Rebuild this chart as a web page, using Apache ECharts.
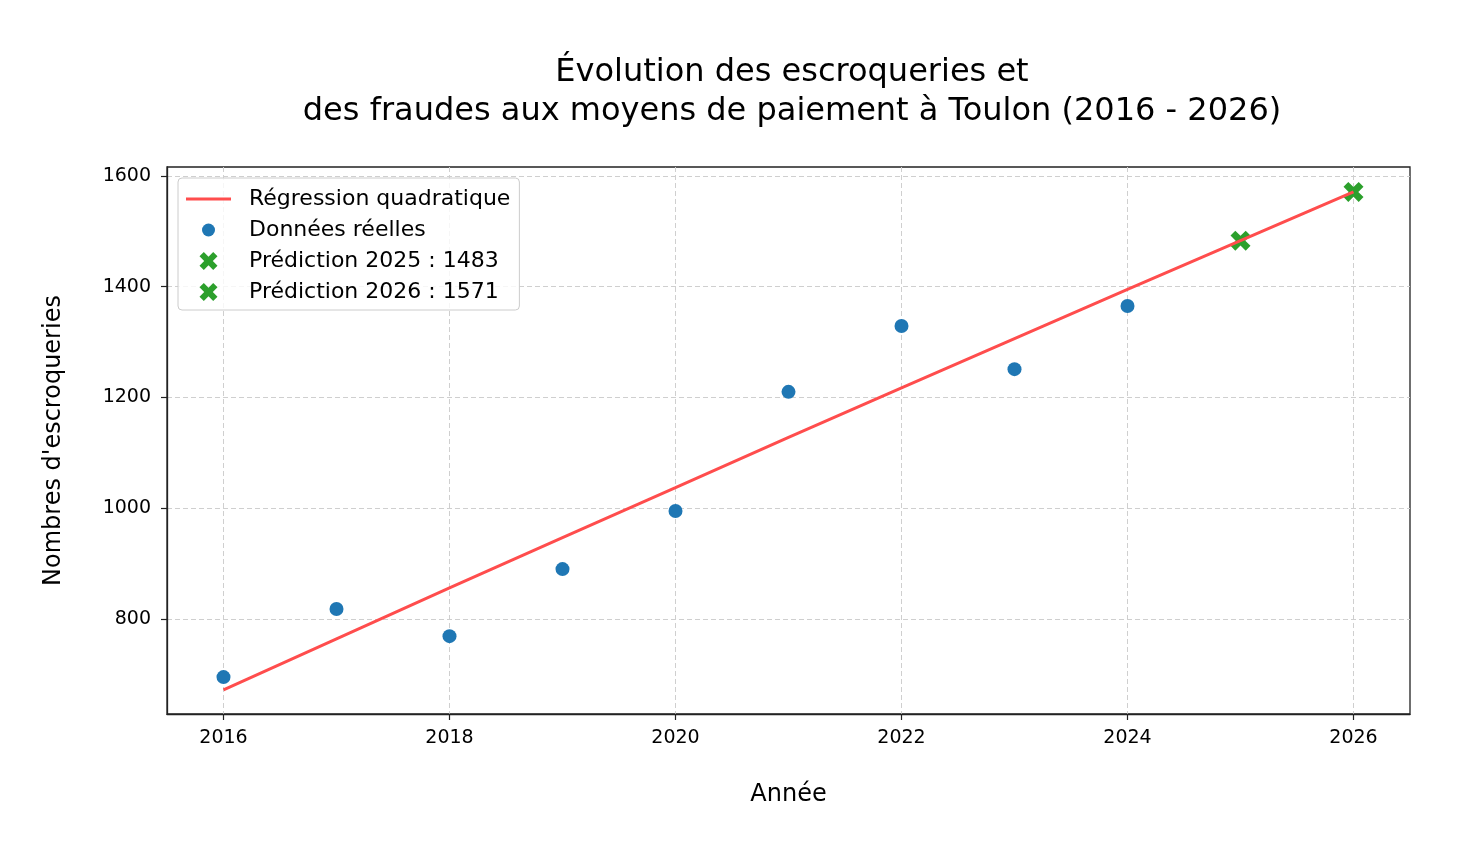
<!DOCTYPE html>
<html>
<head>
<meta charset="utf-8">
<script src="https://cdn.jsdelivr.net/npm/echarts@6/dist/echarts.min.js"></script>
<style>html,body{margin:0;padding:0;background:#fff}#c{width:1475px;height:849px}</style>
</head>
<body>
<div id="c"></div>
<script>
const years = [2016, 2017, 2018, 2019, 2020, 2021, 2022, 2023, 2024];
const actual = [695, 818, 769, 890, 995, 1210, 1329, 1251, 1365];
const predYears = [2025, 2026];
const predValues = [1483, 1571];
const fitYears = [2016, 2017, 2018, 2019, 2020, 2021, 2022, 2023, 2024, 2025, 2026];
const fitValues = [672, 764, 856, 947, 1037, 1128, 1217, 1306, 1395, 1483, 1571];
const xTicks = [2016, 2018, 2020, 2022, 2024, 2026];
const yTicks = [800, 1000, 1200, 1400, 1600];

const FONT = 'DejaVu Sans';
const xPath = 'path://M24,0 L50,26 L76,0 L100,24 L74,50 L100,76 L76,100 L50,74 L24,100 L0,76 L26,50 L0,24 Z';
const lineIcon = 'path://M0,0 L0,0 M0,7.5 L45,7.5 L45,10.5 L0,10.5 Z M45,18 L45,18';
const dotIcon = 'path://M0,0 L0,0 M2.5,9 A6.5,6.5 0 1 1 15.5,9 A6.5,6.5 0 1 1 2.5,9 Z M18,18 L18,18';

const chart = echarts.init(document.getElementById('c'), null, {renderer: 'canvas'});
const gridLine = {show: true, lineStyle: {color: '#cfcfcf', type: [5, 3], width: 1}};
const option = {
  backgroundColor: '#fff',
  animation: false,
  title: {
    text: 'Évolution des escroqueries et\ndes fraudes aux moyens de paiement à Toulon (2016 - 2026)',
    left: 787, top: 48, textAlign: 'center',
    textStyle: {fontFamily: FONT, fontSize: 32, fontWeight: 'normal', color: '#000', lineHeight: 39}
  },
  legend: {
    orient: 'vertical', left: 178, top: 178,
    padding: [10, 9, 7, 8],
    itemWidth: 45, itemHeight: 18, itemGap: 9,
    symbolKeepAspect: true,
    backgroundColor: 'rgba(255,255,255,0.8)',
    borderColor: '#cccccc', borderWidth: 1, borderRadius: 4,
    textStyle: {fontFamily: FONT, fontSize: 22, color: '#000', lineHeight: 22, padding: [0, 0, 0, 13]},
    data: [
      {name: 'Régression quadratique', icon: lineIcon, itemStyle: {color: '#ff4d4d'}},
      {name: 'Données réelles', icon: dotIcon},
      {name: 'Prédiction 2025 : 1483'},
      {name: 'Prédiction 2026 : 1571'}
    ]
  },
  grid: {left: 167, right: 65, top: 167, bottom: 135, show: true, borderColor: '#222', borderWidth: 1.3, backgroundColor: 'transparent'},
  xAxis: {
    type: 'value', min: 2015.5, max: 2026.5,
    name: 'Année', nameLocation: 'middle', nameGap: 69,
    nameTextStyle: {fontFamily: FONT, fontSize: 24, color: '#000'},
    axisLine: {show: true, onZero: false, lineStyle: {color: '#222', width: 1.3}},
    axisTick: {show: true, customValues: xTicks, length: 6, lineStyle: {color: '#222', width: 1.2}},
    axisLabel: {customValues: xTicks, margin: 15, fontFamily: FONT, fontSize: 19, color: '#000', formatter: v => String(v)},
    splitLine: gridLine
  },
  yAxis: {
    type: 'value', min: 628.4, max: 1616,
    name: "Nombres d'escroqueries", nameLocation: 'middle', nameGap: 101,
    nameTextStyle: {fontFamily: FONT, fontSize: 24, color: '#000'},
    axisLine: {show: true, onZero: false, lineStyle: {color: '#222', width: 1.3}},
    axisTick: {show: true, customValues: yTicks, length: 6, lineStyle: {color: '#222', width: 1.2}},
    axisLabel: {customValues: yTicks, margin: 16, fontFamily: FONT, fontSize: 19, color: '#000', formatter: v => String(v)},
    splitLine: gridLine
  },
  series: [
    {
      name: 'Régression quadratique', type: 'line', z: 4,
      data: fitYears.map((y, i) => [y, fitValues[i]]),
      showSymbol: false, symbol: 'none', smooth: false,
      lineStyle: {color: '#ff4d4d', width: 3}, itemStyle: {color: '#ff4d4d'}
    },
    {
      name: 'Données réelles', type: 'scatter', z: 5,
      data: years.map((y, i) => [y, actual[i]]),
      symbol: 'circle', symbolSize: 14,
      itemStyle: {color: '#1f77b4', opacity: 1}
    },
    {
      name: 'Prédiction 2025 : 1483', type: 'scatter', z: 3,
      data: [[predYears[0], predValues[0]]],
      symbol: xPath, symbolSize: 20,
      itemStyle: {color: '#2ca02c', opacity: 1}
    },
    {
      name: 'Prédiction 2026 : 1571', type: 'scatter', z: 3,
      data: [[predYears[1], predValues[1]]],
      symbol: xPath, symbolSize: 20,
      itemStyle: {color: '#2ca02c', opacity: 1}
    }
  ]
};
chart.setOption(option);
</script>
</body>
</html>
